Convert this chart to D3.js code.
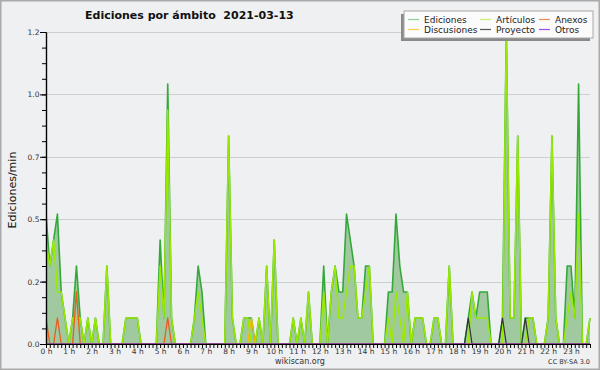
<!DOCTYPE html>
<html><head><meta charset="utf-8">
<script src="https://cdn.jsdelivr.net/npm/d3@7"></script>
<style>
html,body{margin:0;padding:0;background:#eff0f1;}
svg{display:block;font-family:"DejaVu Sans",sans-serif;}
</style>
</head><body>
<svg id="c" width="600" height="370"></svg>
<script>
// ---- data: edits per minute, 10-minute bins, 2021-03-13 ----
const hourLabels = d3.range(24).map(h => h + " h");
const yTicks = [0, 0.24, 0.48, 0.72, 0.96, 1.2];
const seriesNames = ["Ediciones","Artículos","Anexos","Discusiones","Proyecto","Otros"];

const ediciones = [
 0.5,0.3,0.4,0.5,0.2,0.1,0,0.1,0.3,0.1,
 0,0.1,0,0.1,0,0,0.3,0,0,0,
 0,0.1,0.1,0.1,0.1,0,0,0,0,0,
 0.4,0.1,1.0,0.1,0,0,0,0,0,0.1,
 0.3,0.2,0,0,0,0,0,0,0.8,0.1,
 0,0,0.1,0.1,0.1,0,0.1,0,0.3,0,
 0.4,0,0,0,0,0.1,0,0.1,0,0.2,
 0,0,0,0.3,0,0.2,0.3,0.2,0.2,0.5,
 0.4,0.3,0.1,0.1,0.3,0.3,0,0,0,0,
 0.2,0.2,0.5,0.3,0.2,0.2,0,0.1,0.1,0.1,
 0,0,0.1,0.1,0,0,0.3,0,0,0,
 0,0.1,0.2,0.1,0.2,0.2,0.2,0,0,0,
 0.1,1.2,0.1,0.1,0.8,0,0.1,0.1,0.1,0,
 0,0,0.1,0.8,0.1,0,0,0.3,0.3,0.1,
 1.0,0,0,0.1];
const articulos = [
 0.4,0.3,0.4,0.2,0.2,0.1,0,0.1,0.1,0.1,
 0,0.1,0,0.1,0,0,0.3,0,0,0,
 0,0.1,0.1,0.1,0.1,0,0,0,0,0,
 0.3,0.1,0.9,0.1,0,0,0,0,0,0.1,
 0.2,0.1,0,0,0,0,0,0,0.8,0.1,
 0,0,0.1,0.1,0,0,0.1,0,0.3,0,
 0.4,0,0,0,0,0.1,0,0.1,0,0.2,
 0,0,0,0.2,0,0.2,0.3,0.1,0.1,0.2,
 0.3,0.3,0.1,0.1,0.2,0.3,0,0,0,0,
 0.1,0,0.2,0.1,0,0.2,0,0.1,0.1,0.1,
 0,0,0.1,0.1,0,0,0.3,0,0,0,
 0,0,0.2,0.1,0.1,0.1,0.1,0,0,0,
 0,1.2,0.1,0.1,0.8,0,0,0.1,0.1,0,
 0,0,0.1,0.8,0.1,0,0,0.1,0.2,0.1,
 0.5,0,0,0.1];
const anexos = [
 0.1,0,0,0.1,0,0,0,0,0.2,0,
 0,0,0,0,0,0,0,0,0,0,
 0,0,0,0,0,0,0,0,0,0,
 0,0,0.1,0,0,0,0,0,0,0,
 0,0,0,0,0,0,0,0,0,0,
 0,0,0,0,0,0,0,0,0,0,
 0,0,0,0,0,0,0,0,0,0,
 0,0,0,0,0,0,0,0,0,0,
 0,0,0,0,0,0,0,0,0,0,
 0,0,0,0,0,0,0,0,0,0,
 0,0,0,0,0,0,0,0,0,0,
 0,0,0,0,0,0,0,0,0,0,
 0,0,0,0,0,0,0,0,0,0,
 0,0,0,0,0,0,0,0,0,0,
 0,0,0,0];
const discusiones = [
 0,0,0,0,0,0,0,0,0,0,
 0,0,0,0,0,0,0,0,0,0,
 0,0,0,0,0,0,0,0,0,0,
 0,0,0,0,0,0,0,0,0,0,
 0,0,0,0,0,0,0,0,0,0,
 0,0,0,0,0.1,0,0,0,0,0,
 0,0,0,0,0,0,0,0,0,0,
 0,0,0,0,0,0,0,0,0,0,
 0,0,0,0,0,0,0,0,0,0,
 0,0,0,0,0,0,0,0,0,0,
 0,0,0,0,0,0,0,0,0,0,
 0,0,0,0,0,0,0,0,0,0,
 0,0,0,0,0,0,0,0,0,0,
 0,0,0,0,0,0,0,0,0,0,
 0,0,0,0];
const proyecto = [
 0,0,0,0,0,0,0,0,0,0,
 0,0,0,0,0,0,0,0,0,0,
 0,0,0,0,0,0,0,0,0,0,
 0,0,0,0,0,0,0,0,0,0,
 0,0,0,0,0,0,0,0,0,0,
 0,0,0,0,0,0,0,0,0,0,
 0,0,0,0,0,0,0,0,0,0,
 0,0,0,0,0,0,0,0,0,0,
 0,0,0,0,0,0,0,0,0,0,
 0,0,0,0,0,0,0,0,0,0,
 0,0,0,0,0,0,0,0,0,0,
 0,0.1,0,0,0,0,0,0,0,0,
 0.1,0,0,0,0,0,0.1,0,0,0,
 0,0,0,0,0,0,0,0,0,0,
 0,0,0,0];
const otros = d3.range(144).map(() => 0);

// ---- drawing ----
const svg = d3.select("#c");
const W = 600, H = 370;
const x = d3.scaleLinear().domain([0, 143]).range([46, 590]);
const y = d3.scaleLinear().domain([0, 1.2]).range([344, 32]);
const fmt = d3.format(".1f");

svg.append("rect").attr("x",0).attr("y",0).attr("width",W).attr("height",H).attr("fill","#eff0f1");
svg.append("rect").attr("x",0.75).attr("y",0.75).attr("width",W-1.5).attr("height",H-1.5)
  .attr("fill","none").attr("stroke","#aaaaaa").attr("stroke-width",1.5);

// grid
svg.append("g").selectAll("line").data(yTicks.slice(1)).join("line")
  .attr("x1", x(0)).attr("x2", x(143))
  .attr("y1", d => Math.round(y(d)) + 0.5).attr("y2", d => Math.round(y(d)) + 0.5)
  .attr("stroke", "#cfcfcf").attr("stroke-width", 1);

svg.append("defs").append("clipPath").attr("id","clip")
  .append("rect").attr("x", 46).attr("y", 30).attr("width", 545).attr("height", 314);

const plot = svg.append("g").attr("clip-path","url(#clip)");
const area = d3.area().x((d,i) => x(i)).y0(y(0)).y1(d => y(d));
const line = d3.line().x((d,i) => x(i)).y(d => y(d));

plot.append("path").datum(ediciones).attr("d", area).attr("fill", "#a0c9a0");
const lineSeries = [
  {v: ediciones, c: "#34a93a", w: 1.6},
  {v: articulos, c: "#99ea00", w: 1.5},
  {v: discusiones, c: "#f0c000", w: 1.3},
  {v: anexos, c: "#ee5a1a", w: 1.3},
  {v: proyecto, c: "#333333", w: 1.2},
  {v: otros, c: "#8a3ef0", w: 1.2}
];
lineSeries.forEach(s => {
  plot.append("path").datum(s.v).attr("d", line)
    .attr("fill","none").attr("stroke", s.c).attr("stroke-width", s.w)
    .attr("stroke-linejoin","round");
});

// axes
const yMinor = svg.append("g").attr("transform","translate(46,0)")
  .call(d3.axisLeft(y).tickValues(d3.range(0, 1.2001, 0.06)).tickSize(4).tickFormat("").tickSizeOuter(0));
const yAxis = svg.append("g").attr("transform","translate(46,0)")
  .call(d3.axisLeft(y).tickValues(yTicks).tickFormat(fmt).tickSize(6).tickPadding(0.5).tickSizeOuter(0));
const xAxis = svg.append("g").attr("transform","translate(0,344)")
  .call(d3.axisBottom(x).tickValues(d3.range(144)).tickSize(4).tickPadding(1).tickSizeOuter(0)
    .tickFormat(i => i % 6 === 0 ? hourLabels[i / 6] : ""));
[yMinor, yAxis, xAxis].forEach(g => {
  g.select(".domain").attr("stroke","#000").attr("stroke-width",1.2);
  g.selectAll(".tick line").attr("stroke","#000");
  g.selectAll("text").attr("fill","#333").attr("font-size","7.5px")
    .attr("font-family","DejaVu Sans, sans-serif");
});

// titles
svg.append("text").attr("x",85).attr("y",18.5).attr("font-size","11px").attr("font-weight","bold")
  .attr("fill","#111").attr("xml:space","preserve").text("Ediciones por ámbito  2021-03-13");
svg.append("text").attr("transform","translate(16,190) rotate(-90)").attr("text-anchor","middle")
  .attr("font-size","11px").attr("fill","#111").text("Ediciones/min");
svg.append("text").attr("x",300).attr("y",364).attr("text-anchor","middle")
  .attr("font-size","8px").attr("fill","#333").text("wikiscan.org");
svg.append("text").attr("x",590).attr("y",364).attr("text-anchor","end")
  .attr("font-size","6.5px").attr("fill","#333").text("CC BY-SA 3.0");

// legend
const leg = svg.append("g");
leg.append("rect").attr("x",401).attr("y",14).attr("width",189).attr("height",27).attr("fill","#8a8a8a");
leg.append("rect").attr("x",404).attr("y",11).attr("width",189).attr("height",27)
  .attr("fill","#fbfbfb").attr("stroke","#a8a8a8").attr("stroke-width",1);
const legendColors = ["#8fd08f","#c8f070","#f58a50","#f8d050","#555555","#9a50f0"];
const legPos = [[408,19.5],[480,19.5],[539,19.5],[408,29.5],[480,29.5],[539,29.5]];
const legOrder = [0,1,2,3,4,5];
legOrder.forEach((k, j) => {
  const [lx, ly] = legPos[j];
  leg.append("line").attr("x1",lx).attr("x2",lx+11).attr("y1",ly).attr("y2",ly)
    .attr("stroke",legendColors[k]).attr("stroke-width",1.2);
  leg.append("text").attr("x",lx+16).attr("y",ly+3.2).attr("font-size","9px").attr("fill","#222")
    .text(seriesNames[k]);
});
</script>
</body></html>
